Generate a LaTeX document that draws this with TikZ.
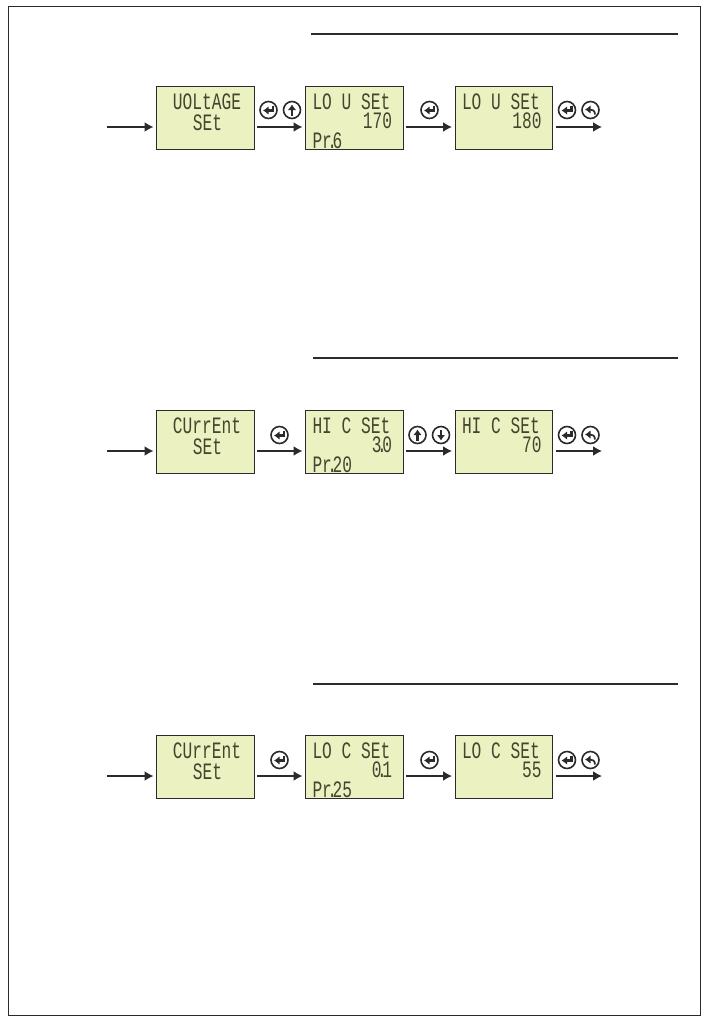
\documentclass[tikz,border=0pt]{standalone}
\usepackage{fontspec}
\usetikzlibrary{arrows.meta}
\newfontfamily\lcdfont[FakeStretch=0.69]{Liberation Mono}
\definecolor{lcdbg}{HTML}{EBF1C0}
\definecolor{lcdink}{HTML}{45452F}
\definecolor{inkline}{HTML}{2B2B2B}
\newcommand{\dotk}{\kern-4.5pt.\kern-4.5pt}
\tikzset{
  lcdbox/.style={draw=inkline,line width=0.9pt,fill=lcdbg,minimum width=97.5pt,minimum height=63pt,inner sep=0pt,outer sep=0pt},
  lcdtext/.style={font=\lcdfont\fontsize{23.5}{23.5}\selectfont,text=lcdink,inner sep=0pt,outer sep=0pt},
  flow/.style={draw=inkline,line width=1.6pt,-{Latex[length=9pt,width=10pt]}},
  rulerline/.style={draw=inkline,line width=1.6pt},
  btn/.style={circle,draw=inkline,line width=1.6pt,fill=white,minimum size=17pt,inner sep=0pt,outer sep=0pt},
  glyph/.style={draw=inkline,line width=2.2pt,-{Latex[length=5.5pt,width=8.5pt]}},
  pics/enterkey/.style={code={\draw[glyph] (4.5,-4.5) -- (4.5,0.5) -- (-5.5,0.5);}},
  pics/upkey/.style={code={\draw[glyph] (0,5.5) -- (0,-5.5);}},
  pics/downkey/.style={code={\draw[glyph] (0,-5.5) -- (0,5.5);}},
  pics/backkey/.style={code={\draw[glyph,line width=1.7pt] (4.5,4.5) .. controls (4.5,0.5) and (2,-0.5) .. (-5.5,-0.5);}}
}
\newcommand{\lcdrow}[9]{%
  \node[lcdbox,anchor=north west] (#1a) at (156.5,#2) {};
  \node[lcdbox,anchor=north west] (#1b) at (305.5,#2) {};
  \node[lcdbox,anchor=north west] (#1c) at (455,#2) {};
  \node[lcdtext,anchor=base] (#1at) at (207,#2+23) {#3};
  \node[lcdtext,anchor=base] (#1as) at (207.5,#2+44) {#4};
  \node[lcdtext,anchor=base west] (#1bt) at (312.5,#2+23) {#5};
  \node[lcdtext,anchor=base east] (#1bv) at (392,#2+42) {#6};
  \node[lcdtext,anchor=base west] (#1bp) at (312.5,#2+62) {#7};
  \node[lcdtext,anchor=base west] (#1ct) at (462,#2+23) {#8};
  \node[lcdtext,anchor=base east] (#1cv) at (541.5,#2+42) {#9};
  \coordinate (#1in) at (107,#2+41);
  \coordinate (#1out) at (602,#2+41);
  \draw[flow] (#1in) -- ([xshift=-3pt]#1a.west |- #1in);
  \draw[flow] ([xshift=3pt]#1a.east |- #1in) -- ([xshift=-3pt]#1b.west |- #1in);
  \draw[flow] ([xshift=3pt]#1b.east |- #1in) -- ([xshift=-3pt]#1c.west |- #1in);
  \draw[flow] ([xshift=3pt]#1c.east |- #1in) -- (#1out);
}
\newcommand{\keybtn}[4]{\node[btn] (#1) at (#2,#3) {}; \pic at (#1) {#4};}
\begin{document}
\begin{tikzpicture}[x=1pt,y=-1pt]
\useasboundingbox (0,0) rectangle (709,1020);
\draw[draw=inkline,line width=0.6pt] (8.5,6.5) rectangle (700.5,1015.5);

\coordinate (r1a) at (311,34); \coordinate (r1b) at (678,34);
\coordinate (r2a) at (313,358); \coordinate (r2b) at (678,358);
\coordinate (r3a) at (313,684); \coordinate (r3b) at (678,684);
\draw[rulerline] (r1a) -- (r1b);
\draw[rulerline] (r2a) -- (r2b);
\draw[rulerline] (r3a) -- (r3b);

\lcdrow{p}{86}{UOLtAGE}{SEt}{LO~U~SEt}{170}{Pr\dotk 6}{LO~U~SEt}{180}
\lcdrow{q}{410}{CUrrEnt}{SEt}{HI~C~SEt}{3\dotk 0}{Pr\dotk 20}{HI~C~SEt}{70}
\lcdrow{s}{735}{CUrrEnt}{SEt}{LO~C~SEt}{0\dotk 1}{Pr\dotk 25}{LO~C~SEt}{55}

\keybtn{pk1}{268.5}{110}{enterkey}
\keybtn{pk2}{292}{110}{upkey}
\keybtn{pk3}{429.5}{110}{enterkey}
\keybtn{pk4}{567}{110}{enterkey}
\keybtn{pk5}{590.5}{110}{backkey}

\keybtn{qk1}{279.5}{435}{enterkey}
\keybtn{qk2}{417.5}{435}{upkey}
\keybtn{qk3}{441}{435}{downkey}
\keybtn{qk4}{567}{435}{enterkey}
\keybtn{qk5}{590.5}{435}{backkey}

\keybtn{sk1}{279.5}{760}{enterkey}
\keybtn{sk2}{429.5}{760}{enterkey}
\keybtn{sk3}{567}{760}{enterkey}
\keybtn{sk4}{590.5}{760}{backkey}
\end{tikzpicture}
\end{document}
